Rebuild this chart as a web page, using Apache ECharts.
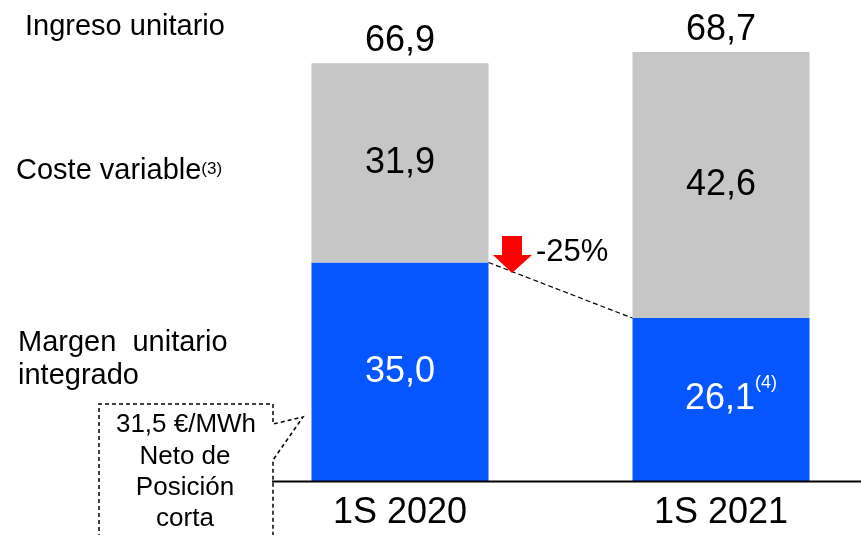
<!DOCTYPE html>
<html><head><meta charset="utf-8">
<script src="https://cdn.jsdelivr.net/npm/echarts@6/dist/echarts.min.js"></script>
<style>html,body{margin:0;padding:0;background:#fff}#c{width:861px;height:535px}</style>
</head><body><div id="c"></div>
<script>
const categories = ['1S 2020', '1S 2021'];
const margen = [35.0, 26.1];
const coste = [31.9, 42.6];
const ingreso = [66.9, 68.7];
const margenNotes = ['', '(4)'];
const changeLabel = '-25%';
const rowLabels = ['Ingreso unitario', 'Coste variable', 'Margen  unitario', 'integrado'];
const calloutLines = ['31,5 €/MWh', 'Neto de', 'Posición', 'corta'];

const FONT = 'Liberation Sans, Arial, sans-serif';
const fmt = v => v.toFixed(1).replace('.', ',');
const BAR_W = 177;

const chart = echarts.init(document.getElementById('c'));
chart.setOption({
  animation: false,
  textStyle: { fontFamily: FONT },
  grid: { left: 400, right: 140, top: 44, bottom: 54 },
  xAxis: {
    type: 'category', data: categories, boundaryGap: false,
    axisLine: { show: false }, axisTick: { show: false },
    axisLabel: { fontSize: 36, color: '#000', margin: 14, fontFamily: FONT }
  },
  yAxis: { type: 'value', min: 0, max: 70, show: false, splitLine: { show: false } },
  series: [
    {
      name: 'Margen', type: 'bar', stack: 's', barWidth: BAR_W, clip: false,
      itemStyle: { color: '#0556FE' },
      data: margen.map((v, i) => ({
        value: v,
        label: { offset: margenNotes[i] ? [10, 0] : [0, 0] }
      })),
      label: {
        show: true, position: 'inside',
        formatter: p => {
          const n = margenNotes[p.dataIndex];
          return n ? '{a|' + fmt(p.value) + '}{s|' + n + '}' : '{a|' + fmt(p.value) + '}';
        },
        rich: {
          a: { fontSize: 36, color: '#fff', fontFamily: FONT, lineHeight: 50, verticalAlign: 'middle' },
          s: { fontSize: 18, color: '#fff', fontFamily: FONT, lineHeight: 19, verticalAlign: 'top' }
        }
      }
    },
    {
      name: 'Coste', type: 'bar', stack: 's', barWidth: BAR_W, clip: false,
      itemStyle: { color: '#C6C6C6' },
      data: coste,
      label: { show: true, position: 'inside', fontSize: 36, color: '#000', fontFamily: FONT, formatter: p => fmt(p.value) }
    },
    {
      name: 'Ingreso', type: 'scatter', symbolSize: 0, data: ingreso, clip: false,
      itemStyle: { opacity: 1 },
      label: { show: true, position: 'top', distance: 4, fontSize: 36, color: '#000', fontFamily: FONT, formatter: p => fmt(p.value) }
    }
  ]
});

const p0 = chart.convertToPixel({ xAxisIndex: 0, yAxisIndex: 0 }, [0, margen[0]]);
const p1 = chart.convertToPixel({ xAxisIndex: 0, yAxisIndex: 0 }, [1, margen[1]]);
const base = chart.convertToPixel({ xAxisIndex: 0, yAxisIndex: 0 }, [0, 0]);

const txt = (text, x, y, size, extra) => Object.assign({
  type: 'text', x: x, y: y, z: 10,
  style: Object.assign({ text: text, fill: '#000', font: size + 'px ' + FONT, align: 'left', verticalAlign: 'middle' }, extra || {})
});

chart.setOption({
  graphic: [
    { type: 'line', z: 20, shape: { x1: 272, y1: base[1] + 0.5, x2: 861, y2: base[1] + 0.5 }, style: { stroke: '#000', lineWidth: 2 } },
    { type: 'line', z: 20, shape: { x1: p0[0] + BAR_W / 2, y1: p0[1], x2: p1[0] - BAR_W / 2, y2: p1[1] }, style: { stroke: '#000', lineWidth: 1.2, lineDash: [5, 3] } },
    { type: 'polygon', z: 25, shape: { points: [[502, 236], [522, 236], [522, 255], [532, 255], [512, 273], [493, 255], [502, 255]] }, style: { fill: '#FF0000' } },
    txt(changeLabel, 536, 252, 31),
    txt(rowLabels[0], 25, 27, 29),
    {
      type: 'text', x: 16, y: 171, z: 10,
      style: {
        text: '{a|' + rowLabels[1] + '}{s|(3)}', verticalAlign: 'middle', align: 'left',
        rich: {
          a: { fontSize: 29, fontFamily: FONT, fill: '#000', lineHeight: 30, verticalAlign: 'middle' },
          s: { fontSize: 17, fontFamily: FONT, fill: '#000', lineHeight: 18, verticalAlign: 'top', padding: [5, 0, 0, 0] }
        }
      }
    },
    txt(rowLabels[2], 18, 343, 29),
    txt(rowLabels[3], 18, 376, 29),
    { type: 'polyline', z: 15, shape: { points: [[99, 545], [99, 404], [273, 404], [273, 424], [303, 417], [273, 460], [273, 545]] }, style: { stroke: '#000', lineWidth: 1.5, lineDash: [4, 3], fill: null } },
    txt(calloutLines[0], 186, 425, 26, { align: 'center' }),
    txt(calloutLines[1], 185, 457, 26, { align: 'center' }),
    txt(calloutLines[2], 185, 488, 26, { align: 'center' }),
    txt(calloutLines[3], 185, 519, 26, { align: 'center' })
  ]
});
</script>
</body></html>
